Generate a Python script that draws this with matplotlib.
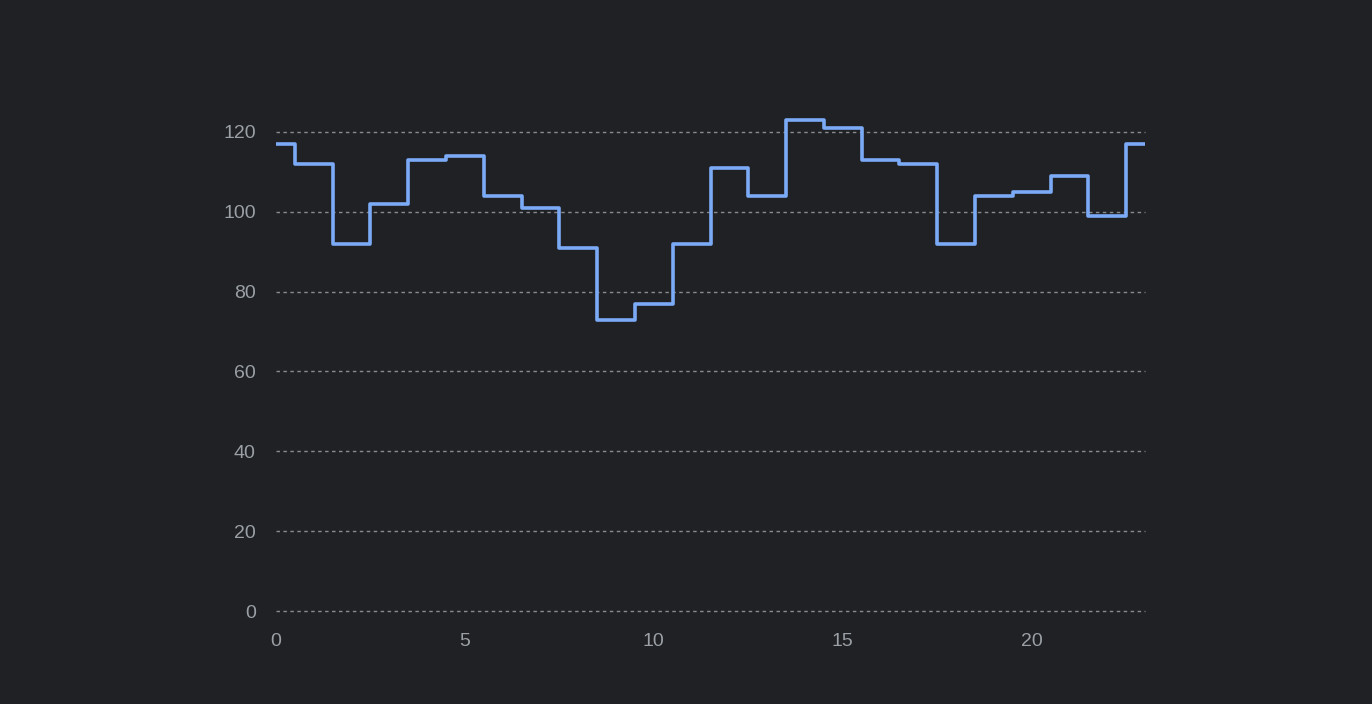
import numpy as np
import matplotlib.pyplot as plt

# hourly values
hours = list(range(24))
values = [117, 112, 92, 102, 113, 114, 104, 101, 91, 73, 77, 92,
          111, 104, 123, 121, 113, 112, 92, 104, 105, 109, 99, 117]
y_ticks = [0, 20, 40, 60, 80, 100, 120]
x_ticks = [0, 5, 10, 15, 20]

plt.rcParams['font.family'] = ['Liberation Sans', 'DejaVu Sans']

bg = '#202124'
fig = plt.figure(figsize=(13.72, 7.04), dpi=100, facecolor=bg)
ax = fig.add_axes([276 / 1372, 93 / 704, 869 / 1372, 499 / 704])
ax.set_facecolor(bg)

ax.step(hours, values, where='mid', color='#7baaf7', linewidth=2.6, zorder=3)

ax.set_xlim(0, 23)
ax.set_ylim(0, 125)
ax.set_yticks(y_ticks)
ax.set_xticks(x_ticks)
ax.grid(axis='y', color='#8a8b8e', linestyle=(0, (2.5, 2.5)), linewidth=1)
for gl in ax.get_ygridlines():
    gl.set_clip_on(False)
ax.tick_params(colors='#9aa0a6', labelsize=14, length=0)
ax.tick_params(axis='y', pad=14.5)
ax.tick_params(axis='x', pad=15.5)
for s in ax.spines.values():
    s.set_visible(False)

fig.savefig('out.png', facecolor=bg)
